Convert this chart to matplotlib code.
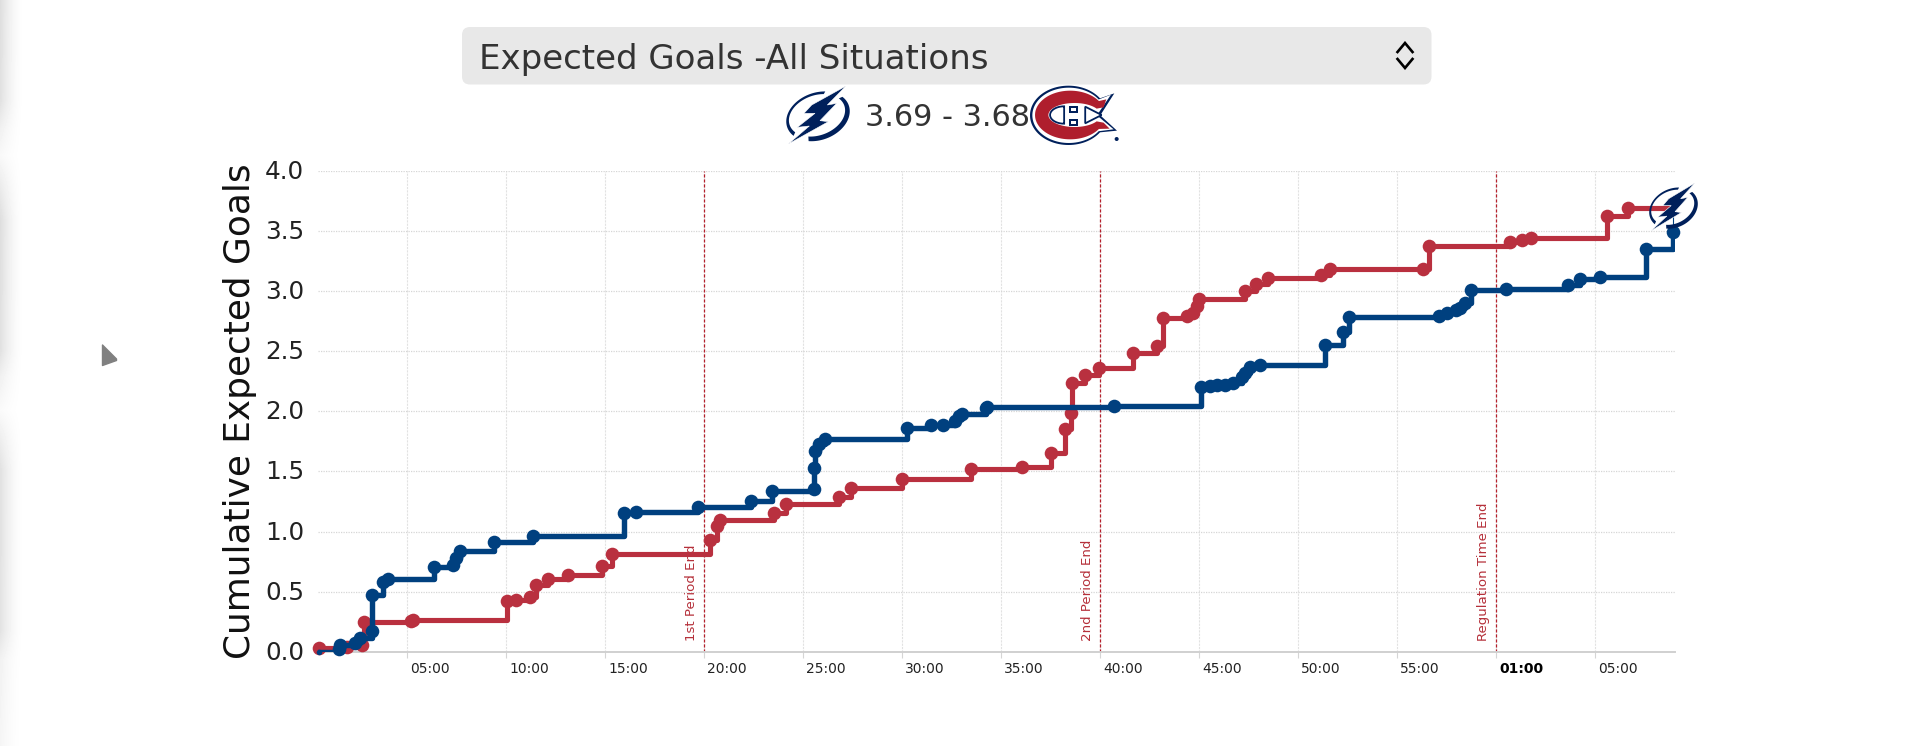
import numpy as np
import matplotlib
matplotlib.use("Agg")
import matplotlib.pyplot as plt
from matplotlib.patches import FancyBboxPatch, Polygon, Ellipse, Rectangle
from matplotlib.transforms import ScaledTranslation

# ---------- data ----------
red_min = [0.57, 1.95, 2.71, 2.83, 5.22, 5.32, 10.03, 10.51, 11.22, 11.53, 12.12, 13.11, 14.84, 15.36,
           20.31, 20.68, 20.81, 23.56, 24.15, 26.84, 27.40, 29.99, 33.49, 36.05, 37.51, 38.22, 38.53,
           38.59, 39.24, 39.95, 41.65, 42.89, 43.20, 44.40, 44.70, 44.88, 45.00, 47.30, 47.88, 48.46, 51.18,
           51.62, 56.29, 56.63, 60.71, 61.33, 61.76, 65.63, 66.65]
red_xg = [0.033, 0.04, 0.06, 0.249, 0.255, 0.268, 0.42, 0.43, 0.457, 0.554, 0.61, 0.637, 0.715, 0.817,
          0.928, 1.047, 1.10, 1.152, 1.23, 1.288, 1.36, 1.44, 1.518, 1.537, 1.651, 1.85, 1.983,
          2.233, 2.30, 2.36, 2.485, 2.546, 2.775, 2.79, 2.818, 2.873, 2.93, 2.998, 3.06, 3.11, 3.136,
          3.18, 3.18, 3.377, 3.41, 3.425, 3.44, 3.62, 3.69]
blue_min = [0.57, 1.58, 1.60, 2.37, 2.63, 3.22, 3.23, 3.80, 4.06, 6.36, 7.30, 7.48, 7.66, 9.39, 11.34,
            15.95, 16.57, 19.72, 22.38, 23.41, 25.57, 25.58, 25.59, 25.79, 26.09, 30.27, 31.44, 32.08,
            32.67, 32.90, 33.05, 34.23, 34.29, 40.69, 45.08, 45.55, 45.93, 46.30, 46.74, 47.16,
            47.30, 47.60, 48.08, 51.37, 52.27, 52.60, 57.10, 57.50, 58.00, 58.20, 58.43, 58.72,
            60.49, 63.65, 64.26, 65.26, 67.58, 68.96]
blue_xg = [0.0, 0.025, 0.06, 0.075, 0.116, 0.177, 0.476, 0.578, 0.609, 0.71, 0.725, 0.78, 0.84, 0.917, 0.96,
           1.158, 1.166, 1.202, 1.252, 1.34, 1.357, 1.526, 1.67, 1.726, 1.767, 1.864, 1.884, 1.89,
           1.92, 1.96, 1.975, 2.03, 2.035, 2.044, 2.20, 2.208, 2.222, 2.222, 2.236, 2.283,
           2.32, 2.369, 2.388, 2.554, 2.656, 2.784, 2.79, 2.815, 2.84, 2.855, 2.90, 3.012,
           3.017, 3.047, 3.10, 3.116, 3.35, 3.488]
end_min = 68.96
end_xg = 3.69
period_min = [20, 40, 60]
period_labels = ["1st Period End", "2nd Period End", "Regulation Time End"]
x_ticks = [5, 10, 15, 20, 25, 30, 35, 40, 45, 50, 55, 60, 65]
x_labels = ["05:00", "10:00", "15:00", "20:00", "25:00", "30:00", "35:00", "40:00", "45:00", "50:00",
            "55:00", "01:00", "05:00"]
y_ticks = [0.0, 0.5, 1.0, 1.5, 2.0, 2.5, 3.0, 3.5, 4.0]
select_label = "Expected Goals -All Situations"
score_label = "3.69 - 3.68"

BLUE = "#00407f"
RED = "#b9303f"
NAVY = "#00205b"
LOGO_RED = "#af1e2d"
W, H = 1920, 746

plt.rcParams['font.family'] = ['DejaVu Sans']
fig = plt.figure(figsize=(W / 100, H / 100), dpi=100, facecolor="white")

# ---------- page furniture, in pixel coordinates ----------
bg = fig.add_axes([0, 0, 1, 1], zorder=0)
bg.set_xlim(0, W); bg.set_ylim(H, 0); bg.axis("off")

# soft blurred shadow on the left edge
rows = np.arange(H)
strength = np.interp(rows, [0, 100, 128, 155, 185, 220, 350, 376, 410, 440, 470, 630, 660, 700, 746],
                     [1, .9, .45, .2, .6, 1, .9, .45, .15, .55, .9, .85, .4, .35, .3])
fade = np.linspace(1, 0, 26) ** 1.8
shadow = 1 - 0.13 * np.outer(strength, fade)
bg.imshow(shadow, extent=(0, 26, H, 0), cmap="gray", vmin=0, vmax=1, aspect="auto", interpolation="bilinear")
bg.set_xlim(0, W); bg.set_ylim(H, 0)

# collapse triangle
bg.add_patch(Polygon([(102.5, 345), (116.5, 359), (116.5, 360.5), (102.5, 365.5)], closed=True,
                     fc="#808080", ec="#808080", lw=1, joinstyle="round"))

# select box
bg.add_patch(FancyBboxPatch((468, 33), 957.5, 45.5, boxstyle="round,pad=6,rounding_size=8", fc="#e8e8e8", ec="none"))
bg.text(479, 60, select_label, fontsize=24.45, color="#333333", va="center", ha="left")
bg.plot([1397.5, 1405, 1412.5], [52, 43, 52], color="black", lw=1.9, solid_joinstyle="miter")
bg.plot([1397.5, 1405, 1412.5], [59, 68, 59], color="black", lw=1.9, solid_joinstyle="miter")
bg.text(865, 118, score_label, fontsize=21.9, color="#333333", va="center", ha="left")


def lightning(ax, x0, y0, x1, y1, z):
    sx = (x1 - x0) / 192.0
    sy = (y1 - y0) / 174.0

    def poly(pts, **k):
        pts = np.asarray(pts, float)
        ax.add_patch(Polygon(np.c_[x0 + (pts[:, 0] - 138) * sx, y0 + (pts[:, 1] - 48) * sy],
                             closed=True, zorder=z, **k))

    def ell(cx, cy, rx, ry, a, b):
        th = np.radians(np.linspace(a, b, 60))
        t = np.radians(-20)
        ex, ey = rx * np.cos(th), -ry * np.sin(th)
        return np.c_[cx + ex * np.cos(t) - ey * np.sin(t), cy + ex * np.sin(t) + ey * np.cos(t)]

    for a, b in [(62, 205), (238, 385)]:
        poly(np.r_[ell(234, 139, 98, 71, a, b), ell(231, 136, 87, 60, b, a)], fc=NAVY, ec="none")
    poly([(318, 48), (215, 105), (192, 130), (225, 130), (172, 172), (208, 168), (145, 222),
          (265, 155), (240, 152), (290, 100), (262, 105)], fc=NAVY, ec="white", lw=0.4)


def canadiens(ax, x0, y0, x1, y1, z):
    sx = (x1 - x0) / 260.0
    sy = (y1 - y0) / 177.0
    mx = lambda v: x0 + (np.asarray(v) - 870) * sx
    my = lambda v: y0 + (np.asarray(v) - 48) * sy

    def arc(cx, cy, rx, ry, a, b):
        th = np.radians(np.linspace(a, b, 80))
        return np.c_[cx + rx * np.cos(th), cy - ry * np.sin(th)]

    def poly(pts, **k):
        pts = np.asarray(pts, float)
        ax.add_patch(Polygon(np.c_[mx(pts[:, 0]), my(pts[:, 1])], closed=True, zorder=z, **k))

    # navy and white outline, then the red C
    poly(np.r_[arc(985, 136, 115, 89, 35, 325), [(1130, 182), (1080, 136), (1122, 70)]], fc=NAVY, ec="none")
    poly(np.r_[arc(986, 136, 109, 83, 35, 325), [(1120, 178), (1070, 136), (1112, 74)]], fc="white", ec="none")
    poly(np.r_[arc(990, 135, 105, 73, 35, 325), [(1108, 176), (1090, 158)],
               arc(1003, 135, 78, 36, 328, 32), [(1090, 112), (1098, 88)]], fc=LOGO_RED, ec="none")
    # centre lettering
    poly(arc(972, 135, 42, 26, 90, 270), fc="white", ec=NAVY, lw=1.3)
    poly([(1035, 110), (1084, 135), (1035, 160)], fc="white", ec=NAVY, lw=1.3)
    for top in (108, 148):
        ax.add_patch(Rectangle((mx(988), my(top)), 24 * sx, 20 * sy, fc=NAVY, ec="none", zorder=z))
        ax.add_patch(Rectangle((mx(994), my(top + 5)), 12 * sx, 10 * sy, fc="white", ec="none", zorder=z))
    ax.add_patch(Ellipse((mx(1129), my(207)), 12 * sx, 12 * sy, fc=NAVY, ec="none", zorder=z))


lightning(bg, 786, 86, 850, 144, 3)
canadiens(bg, 1030, 86, 1117, 145, 3)

# ---------- chart ----------
left, right, top, bottom = 318, 1675, 170.6, 652
ax = fig.add_axes([left / W, 1 - bottom / H, (right - left) / W, (bottom - top) / H], zorder=1)
ax.patch.set_alpha(0)
ax.set_xlim(0.505, 69.04)
ax.set_ylim(0, 4)

ax.set_xticks(x_ticks)
ax.set_xticklabels(x_labels, fontsize=10, color="#222222", ha="left")
ax.set_yticks(y_ticks)
ax.set_yticklabels([f"{v:.1f}" for v in y_ticks], fontsize=17.7, color="#222222")
ax.tick_params(axis="x", length=4.5, width=0.8, color="#d5d5d5", pad=3)
ax.tick_params(axis="y", length=0, pad=10)
shift = ScaledTranslation(3 / 100, 0, fig.dpi_scale_trans)
for lab in ax.get_xticklabels():
    lab.set_transform(lab.get_transform() + shift)
lift = ScaledTranslation(0, 1.5 / 100, fig.dpi_scale_trans)
for lab in ax.get_yticklabels():
    lab.set_transform(lab.get_transform() + lift)
ax.get_xticklabels()[11].set_fontweight("bold")
ax.get_xticklabels()[11].set_color("black")
ax.grid(True, axis="y", color="#d6d6d6", lw=0.9, ls=(0, (1, 1)))
ax.grid(True, axis="x", color="#e2e2e2", lw=0.8, ls=(0, (2, 1)))
ax.set_axisbelow(True)
for s in ["top", "left", "right"]:
    ax.spines[s].set_visible(False)
ax.spines["bottom"].set_color("#d0d0d0")
ax.spines["bottom"].set_linewidth(1.4)
ax.set_ylabel("Cumulative Expected Goals", fontsize=25.8, color="#111111")
ax.yaxis.set_label_coords(-0.0453, 0.501)

for m, t in zip(period_min, period_labels):
    ax.axvline(m, color="#b5202c", lw=0.9, ls=(0, (2.5, 1.5)), zorder=2)
    ax.annotate(t, (m, 0), xytext=(-9, 8), textcoords="offset points", rotation=90,
                ha="center", va="bottom", fontsize=9.6, color="#b5303a", zorder=2,
                annotation_clip=False)

ax.plot(red_min + [end_min], red_xg + [end_xg], drawstyle="steps-post", color=RED, lw=3.7, zorder=3)
ax.plot(red_min, red_xg, ls="none", marker="o", ms=9.8, mfc=RED, mec=RED, mew=0, zorder=3, clip_on=False)
ax.plot(blue_min, blue_xg, drawstyle="steps-post", color=BLUE, lw=3.9, zorder=4)
ax.plot(blue_min[1:], blue_xg[1:], ls="none", marker="o", ms=9.8, mfc=BLUE, mec=BLUE, mew=0, zorder=4, clip_on=False)
ax.plot(blue_min[:1], blue_xg[:1], ls="none", marker="o", ms=4, mfc=BLUE, mec=BLUE, mew=0, zorder=4, clip_on=False)
ax.plot([end_min, end_min], [blue_xg[-1], end_xg], color=BLUE, lw=0.8, zorder=4)

# end-of-line logo
fg = fig.add_axes([0, 0, 1, 1], zorder=2)
fg.set_xlim(0, W); fg.set_ylim(H, 0); fg.axis("off")
lightning(fg, 1649, 183, 1698, 231, 5)

fig.savefig("out.png", dpi=100, facecolor="white")
